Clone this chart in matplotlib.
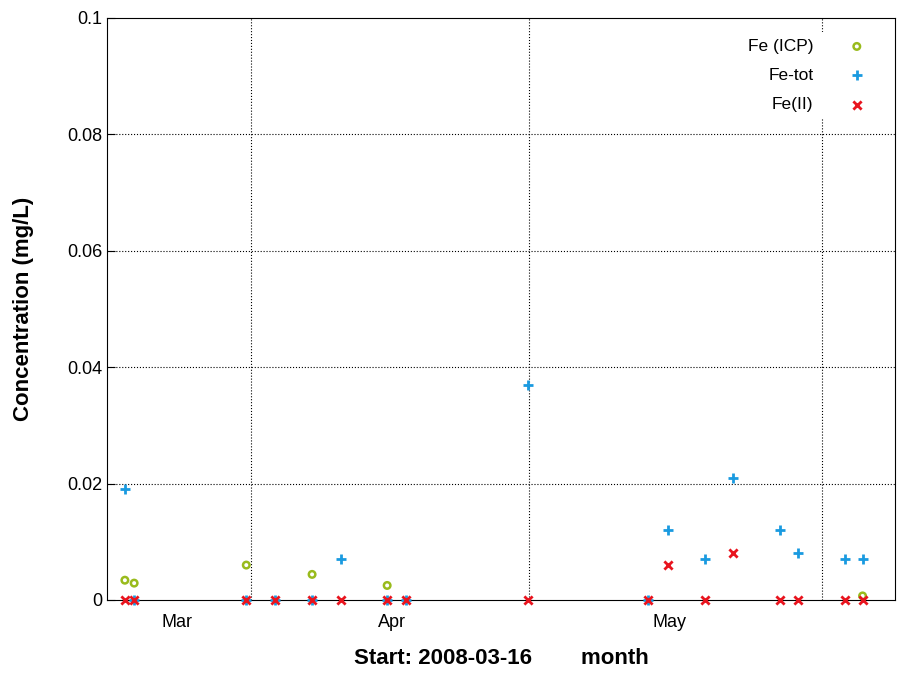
import matplotlib
matplotlib.use("Agg")
import matplotlib.pyplot as plt

plt.rcParams['font.family'] = ['Liberation Sans', 'DejaVu Sans']

# days since 2008-03-16
icp_days = [2.4, 3.4, 15.5, 22.6, 30.7, 82.0]
icp_vals = [0.0034, 0.0029, 0.006, 0.0044, 0.0025, 0.0007]

tot_days = [2.4, 3.4, 15.5, 18.6, 22.6, 25.7, 30.7, 32.7, 45.9, 58.9, 61.0, 65.0, 68.0, 73.1, 75.0, 80.1, 82.0]
tot_vals = [0.019, 0, 0, 0, 0, 0.007, 0, 0, 0.037, 0, 0.012, 0.007, 0.021, 0.012, 0.008, 0.007, 0.007]

fe2_days = tot_days
fe2_vals = [0, 0, 0, 0, 0, 0, 0, 0, 0, 0, 0.006, 0, 0.008, 0, 0, 0, 0]

month_starts = [16, 46, 77.6]
month_label_pos = [8, 31.2, 61.2]
month_labels = ['Mar', 'Apr', 'May']

fig = plt.figure(figsize=(8.97, 6.8), dpi=100)
ax = fig.add_axes([107/897, 80/680, 788/897, 582/680])

ax.scatter(icp_days, icp_vals, marker='o', s=22, facecolors='none', edgecolors='#99bb1c', linewidths=1.8, label='Fe (ICP)', zorder=3, clip_on=False)
ax.scatter(tot_days, tot_vals, marker='+', s=45, color='#1a9ae0', linewidths=2, label='Fe-tot', zorder=3, clip_on=False)
ax.scatter(fe2_days, fe2_vals, marker='x', s=35, color='#e8141e', linewidths=2, label='Fe(II)', zorder=4, clip_on=False)

ax.set_xlim(0.47, 85.5)
ax.set_ylim(0, 0.1)
ax.set_yticks([0, 0.02, 0.04, 0.06, 0.08, 0.1])
ax.set_yticklabels(['0', '0.02', '0.04', '0.06', '0.08', '0.1'], fontsize=13)
ax.set_xticks(month_label_pos)
ax.set_xticklabels(month_labels, fontsize=13)
ax.tick_params(axis='x', length=0, pad=10)
ax.tick_params(axis='y', direction='in', length=6)
for d in month_starts:
    ax.axvline(d, color='black', linestyle=':', linewidth=0.8, zorder=1)
for y in [0.02, 0.04, 0.06, 0.08]:
    ax.axhline(y, color='black', linestyle=':', linewidth=0.8, zorder=1)

ax.set_ylabel('Concentration (mg/L)', fontsize=16, fontweight='bold', labelpad=24)
ax.set_xlabel('Start: 2008-03-16        month', fontsize=16, fontweight='bold', labelpad=12)

leg = ax.legend(loc='upper right', markerfirst=False, frameon=True, fontsize=12.5,
                handletextpad=1.5, labelspacing=0.8, borderaxespad=0.8)
leg.get_frame().set_facecolor('white')
leg.get_frame().set_edgecolor('none')
leg.get_frame().set_alpha(1)

fig.savefig('out.png', dpi=100)
